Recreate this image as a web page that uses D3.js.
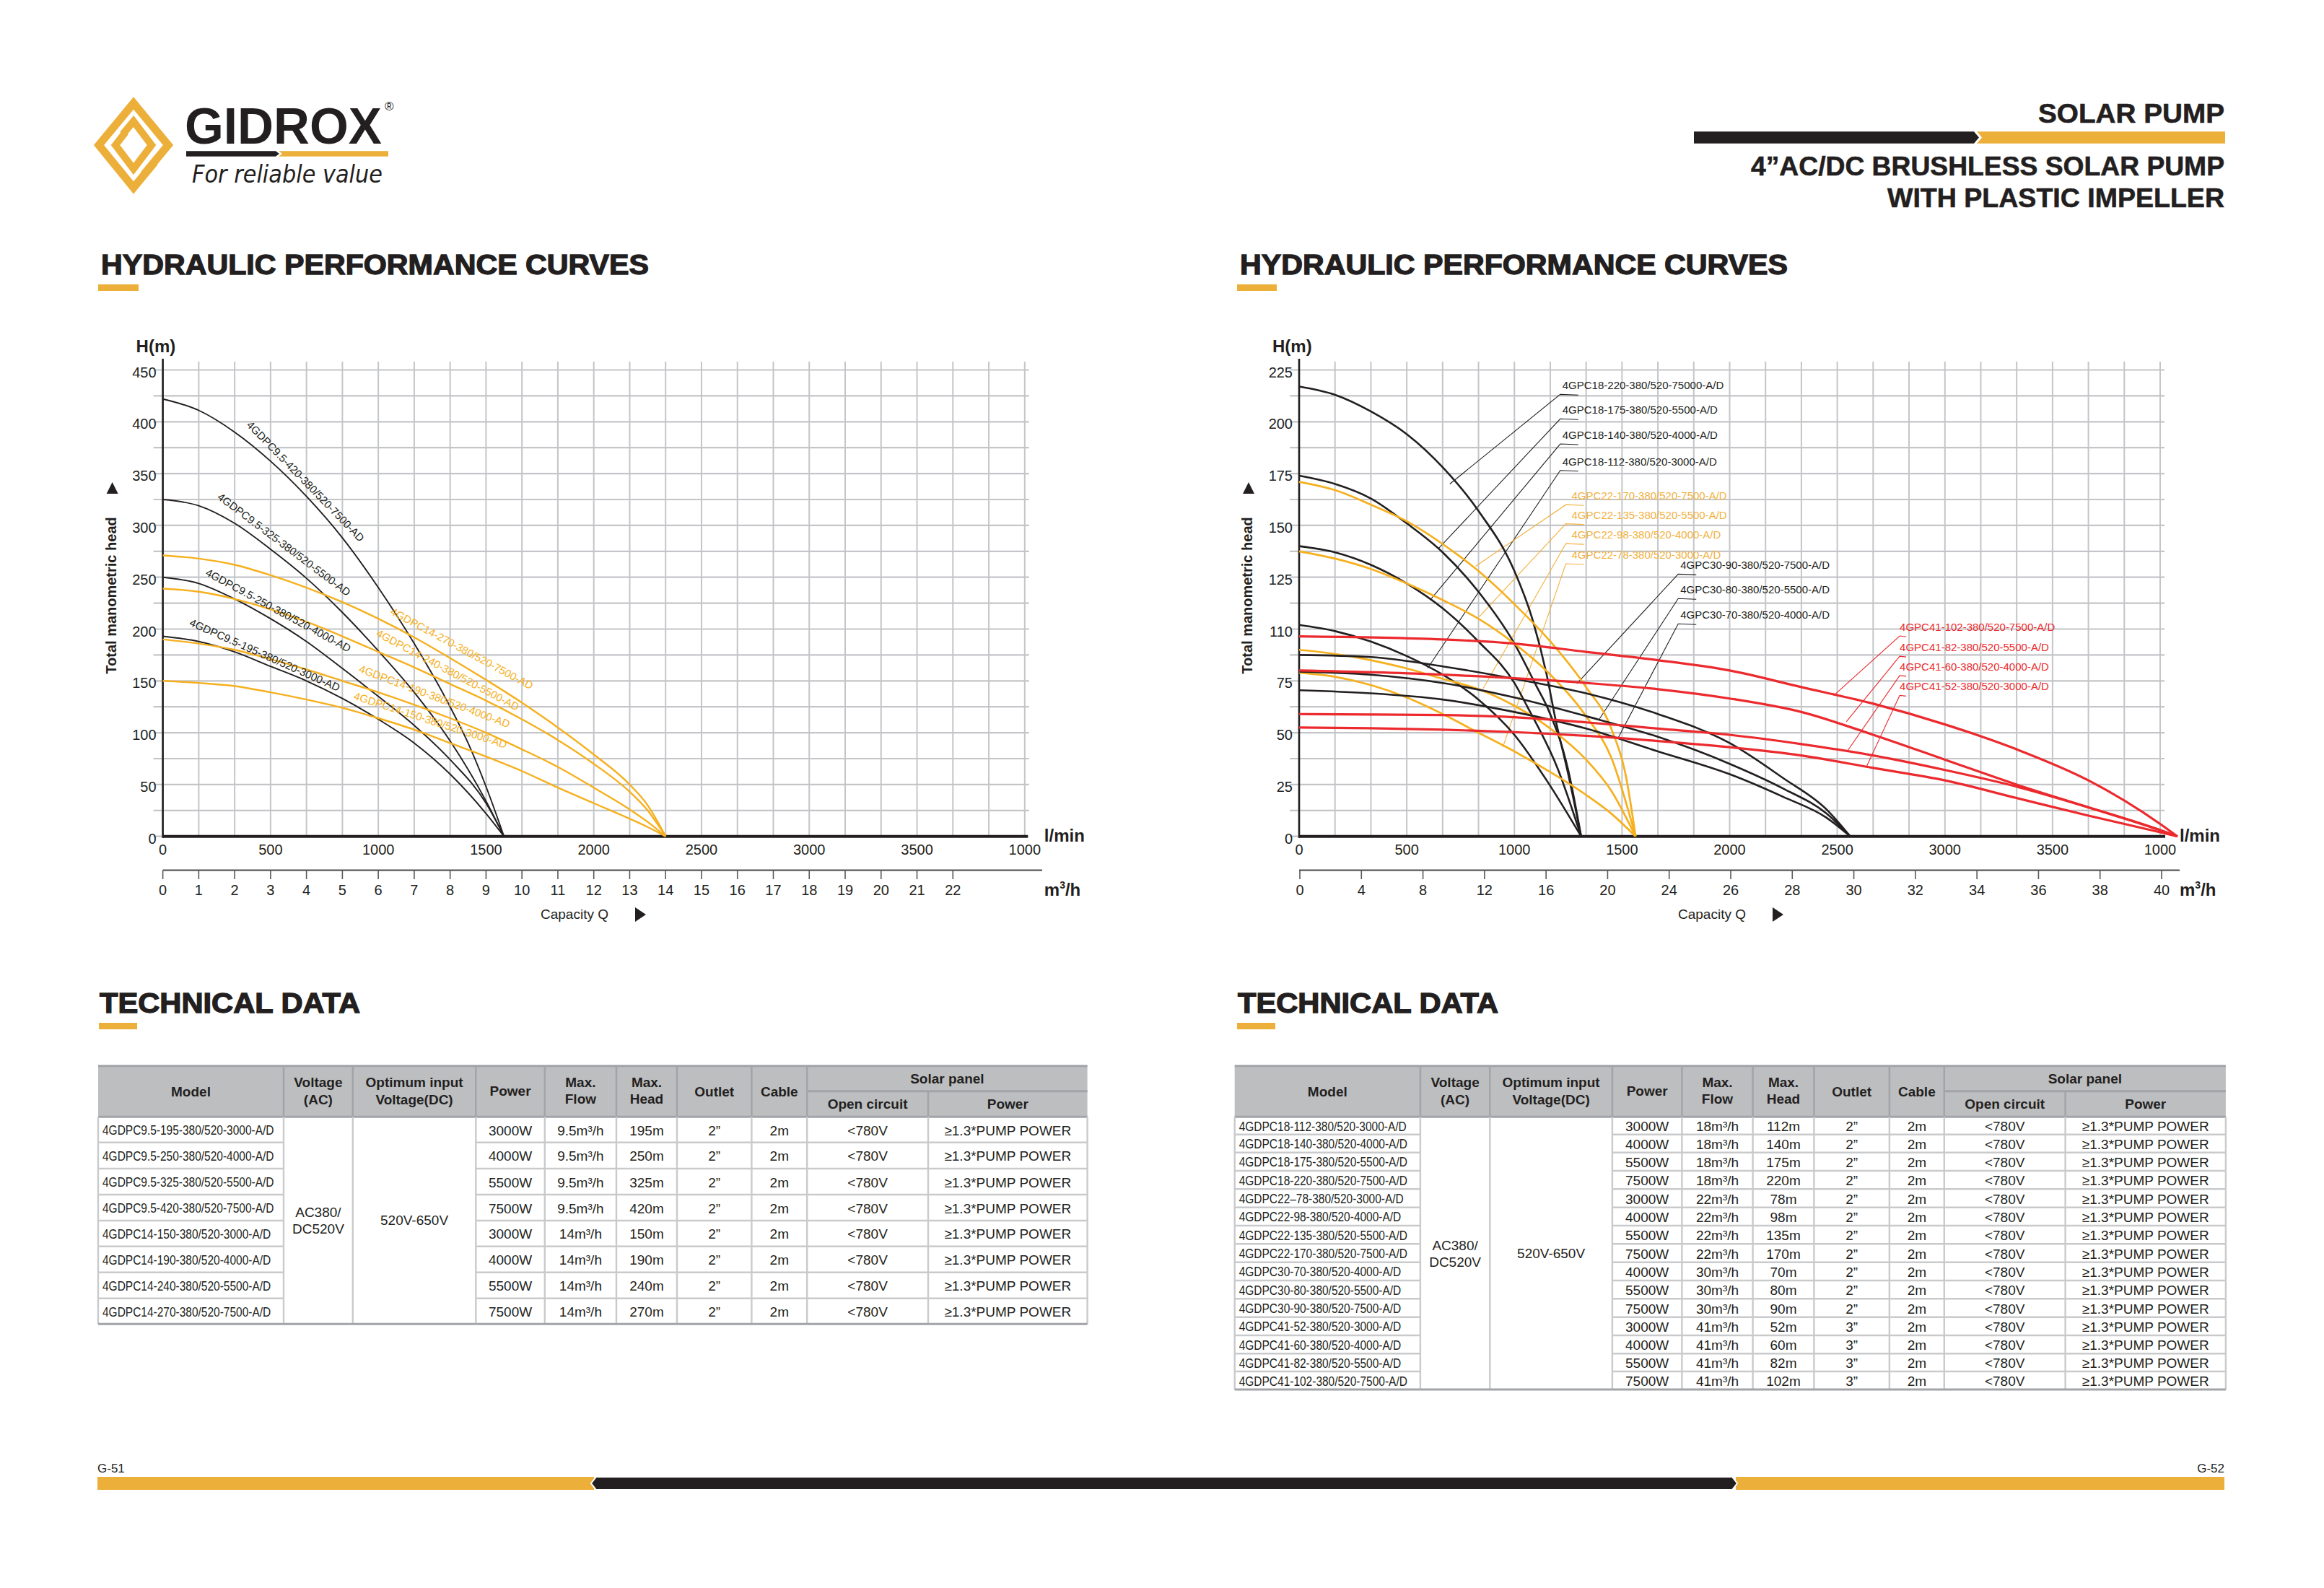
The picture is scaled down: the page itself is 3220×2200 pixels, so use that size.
<!DOCTYPE html>
<html><head><meta charset="utf-8">
<script src="https://cdn.jsdelivr.net/npm/d3@7"></script>
<style>
body{margin:0;background:#fff}
svg{display:block}
text{font-family:"Liberation Sans",Arial,Helvetica,sans-serif;fill:#231f20}
</style>
</head><body>
<script>
// ================= DATA =================
// Left chart (4GDPC9.5 / 4GDPC14) – x in m³/h grid units, y in metres
const leftM3hTicks = [0,1,2,3,4,5,6,7,8,9,10,11,12,13,14,15,16,17,18,19,20,21,22];
const leftLminTicks = [0,500,1000,1500,2000,2500,3000,3500,4000];
const leftLminLabels = ["0","500","1000","1500","2000","2500","3000","3500","1000"];
const leftHeadTicks = [0,50,100,150,200,250,300,350,400,450];

const gdpc95_195 = [[0,193],[1,188],[2,178],[3,164],[4,150],[5,133],[6,113],[7,90],[8,60],[9,22],[9.5,0]];
const gdpc95_250 = [[0,250],[1,244],[2,229],[3,210],[4,188],[5,162],[6,135],[7,107],[8,74],[9,32],[9.5,0]];
const gdpc95_325 = [[0,325],[1,319],[2,302],[3,277],[4,249],[5,216],[6,179],[7,139],[8,92],[9,34],[9.5,0]];
const gdpc95_420 = [[0,422],[1,411],[2,390],[3,362],[4,328],[5,288],[6,240],[7,186],[8,125],[8.5,90],[9,48],[9.5,0]];
const gdpc14_150 = [[0,150],[1,148],[2,145],[3,139],[4,132],[5,124],[6,114],[7,103],[8,90],[9,77],[10,63],[11,47],[12,32],[13,17],[13.5,9],[14,0]];
const gdpc14_190 = [[0,190],[1,186],[2,180],[3,171],[4,161],[5,150],[6,139],[7,127],[8,114],[9,100],[10,84],[11,67],[12,47],[13,26],[13.5,14],[14,0]];
const gdpc14_240 = [[0,239],[1,236],[2,229],[3,219],[4,207],[5,193],[6,178],[7,163],[8,147],[9,131],[10,113],[11,93],[12,70],[13,43],[13.5,25],[14,0]];
const gdpc14_270 = [[0,271],[1,268],[2,262],[3,252],[4,240],[5,226],[6,210],[7,192],[8,172],[9,151],[10,129],[11,105],[12,79],[13,50],[13.5,30],[14,0]];

const leftSeriesNames = ["4GDPC9.5-420-380/520-7500-AD","4GDPC9.5-325-380/520-5500-AD","4GDPC9.5-250-380/520-4000-AD","4GDPC9.5-195-380/520-3000-AD",
  "4GDPC14-270-380/520-7500-AD","4GDPC14-240-380/520-5500-AD","4GDPC14-190-380/520-4000-AD","4GDPC14-150-380/520-3000-AD"];
const leftSeriesData = [gdpc95_420,gdpc95_325,gdpc95_250,gdpc95_195,gdpc14_270,gdpc14_240,gdpc14_190,gdpc14_150];
const leftSeriesGroup = ["k","k","k","k","y","y","y","y"];
// label anchor (data space) and text angle
const leftLabelAt = [[3.92,340.7],[3.33,279.5],[3.18,215.7],[2.81,172.6],[8.29,178.9],[7.90,158.2],[7.54,132.6],[7.43,109.6]];
const leftLabelAngle = [45.8,37,28.4,24,28.3,28.1,20.5,18];

// Right chart (4GPC18/22/30/41) – x in l/min, y in metres
const rightLminTicks = [0,500,1000,1500,2000,2500,3000,3500,4000];
const rightLminLabels = ["0","500","1000","1500","2000","2500","3000","3500","1000"];
const rightHeadTicks = [0,25,50,75,100,125,150,175,200,225];
const rightHeadLabels = ["0","25","50","75","110","125","150","175","200","225"];
const rightM3hLabels = ["0","4","8","12","16","20","24","26","28","30","32","34","36","38","40"];

const gpc18_220 = [[0,217],[167,213],[333,205],[500,194],[667,178],[833,157],[1000,128],[1083,105],[1150,78],[1192,56],[1250,30],[1310,0]];
const gpc18_175 = [[0,174],[167,170],[333,163],[500,151],[667,137],[833,118],[1000,93],[1100,73],[1154,62],[1250,32],[1310,0]];
const gpc18_140 = [[0,140],[167,137],[333,131],[500,122],[667,110],[833,94],[1000,74],[1063,62],[1200,33],[1310,0]];
const gpc18_112 = [[0,102],[167,99],[333,94],[500,87],[667,78],[833,66],[1000,49],[1150,27],[1310,0]];
const gpc22_170 = [[0,171],[167,167],[333,160],[500,152],[667,141],[833,128],[1000,112],[1167,94],[1333,72],[1450,52],[1520,28],[1563,0]];
const gpc22_135 = [[0,137.5],[167,134],[333,129],[500,122],[667,114],[833,105],[1000,93],[1167,78],[1333,58],[1450,38],[1563,0]];
const gpc22_98  = [[0,90],[167,88],[333,85],[500,81],[667,76],[833,71],[1000,63],[1167,52],[1333,37],[1450,22],[1563,0]];
const gpc22_78  = [[0,79],[167,77],[333,73],[500,67],[667,59],[833,50],[1000,41],[1167,31],[1333,20],[1450,11],[1563,0]];
const gpc30_90  = [[0,87.5],[333,86.5],[667,82],[1000,76],[1333,69],[1667,59],[2000,45],[2250,28],[2450,13],[2560,0]];
const gpc30_80  = [[0,79.5],[333,78],[667,74],[1000,67],[1333,58],[1667,48],[2000,35],[2250,23],[2450,11],[2560,0]];
const gpc30_70  = [[0,70.5],[333,69],[667,66],[1000,60],[1333,52],[1667,41],[2000,30],[2250,19],[2450,9],[2560,0]];
const gpc41_102 = [[0,96.5],[667,95],[1000,93],[1333,89],[1667,85],[2000,80],[2333,72],[2667,64],[3000,54],[3333,42],[3667,27],[4000,6],[4080,0]];
const gpc41_82  = [[0,80],[667,78],[1333,74],[1667,71],[2000,66.5],[2333,60],[2667,49],[3000,37],[3333,25],[3667,14],[4000,3],[4080,0]];
const gpc41_60  = [[0,59],[333,58.8],[667,58.5],[1000,57.5],[1333,55],[1667,52],[2000,49],[2333,44.5],[2667,39],[3000,32],[3333,24],[3667,14],[4000,3],[4080,0]];
const gpc41_52  = [[0,52.5],[333,52.2],[667,51.5],[1000,50.3],[1333,48.5],[1667,46],[2000,43],[2333,39],[2667,33],[3000,27],[3333,18.5],[3667,10],[4000,2],[4080,0]];

const rightSeriesNames = ["4GPC18-220-380/520-75000-A/D","4GPC18-175-380/520-5500-A/D","4GPC18-140-380/520-4000-A/D","4GPC18-112-380/520-3000-A/D",
  "4GPC22-170-380/520-7500-A/D","4GPC22-135-380/520-5500-A/D","4GPC22-98-380/520-4000-A/D","4GPC22-78-380/520-3000-A/D",
  "4GPC30-90-380/520-7500-A/D","4GPC30-80-380/520-5500-A/D","4GPC30-70-380/520-4000-A/D",
  "4GPC41-102-380/520-7500-A/D","4GPC41-82-380/520-5500-A/D","4GPC41-60-380/520-4000-A/D","4GPC41-52-380/520-3000-A/D"];
const rightSeriesData = [gpc18_220,gpc18_175,gpc18_140,gpc18_112,gpc22_170,gpc22_135,gpc22_98,gpc22_78,gpc30_90,gpc30_80,gpc30_70,gpc41_102,gpc41_82,gpc41_60,gpc41_52];
const rightSeriesGroup = ["k","k","k","k","y","y","y","y","k","k","k","r","r","r","r"];
// leader: point on curve -> elbow (data space)
const rightLeaderFrom = [[700,170],[649,139],[614,114.7],[597,81.1],[820,130.3],[837,106],[854,71.2],[946,43],[1290,73.7],[1393,56.3],[1479,46.9],[2484,68],[2542,55.3],[2544,40.7],[2636,33.7]];
const rightLeaderElbow = [[1213,213.2],[1213,201.4],[1213,189.3],[1213,176.5],[1239,160],[1239,150.8],[1239,141.2],[1239,131.5],[1761,126.5],[1761,114.7],[1761,102.5],[2790,96.7],[2790,86.9],[2790,77.6],[2790,68]];

// Tables
const leftModels = ["4GDPC9.5-195-380/520-3000-A/D","4GDPC9.5-250-380/520-4000-A/D","4GDPC9.5-325-380/520-5500-A/D","4GDPC9.5-420-380/520-7500-A/D",
  "4GDPC14-150-380/520-3000-A/D","4GDPC14-190-380/520-4000-A/D","4GDPC14-240-380/520-5500-A/D","4GDPC14-270-380/520-7500-A/D"];
const leftPower = ["3000W","4000W","5500W","7500W","3000W","4000W","5500W","7500W"];
const leftFlow = ["9.5m³/h","9.5m³/h","9.5m³/h","9.5m³/h","14m³/h","14m³/h","14m³/h","14m³/h"];
const leftHead = ["195m","250m","325m","420m","150m","190m","240m","270m"];
const leftOutlet = ["2”","2”","2”","2”","2”","2”","2”","2”"];

const rightModels = ["4GDPC18-112-380/520-3000-A/D","4GDPC18-140-380/520-4000-A/D","4GDPC18-175-380/520-5500-A/D","4GDPC18-220-380/520-7500-A/D",
  "4GDPC22–78-380/520-3000-A/D","4GDPC22-98-380/520-4000-A/D","4GDPC22-135-380/520-5500-A/D","4GDPC22-170-380/520-7500-A/D",
  "4GDPC30-70-380/520-4000-A/D","4GDPC30-80-380/520-5500-A/D","4GDPC30-90-380/520-7500-A/D",
  "4GDPC41-52-380/520-3000-A/D","4GDPC41-60-380/520-4000-A/D","4GDPC41-82-380/520-5500-A/D","4GDPC41-102-380/520-7500-A/D"];
const rightPower = ["3000W","4000W","5500W","7500W","3000W","4000W","5500W","7500W","4000W","5500W","7500W","3000W","4000W","5500W","7500W"];
const rightFlow = ["18m³/h","18m³/h","18m³/h","18m³/h","22m³/h","22m³/h","22m³/h","22m³/h","30m³/h","30m³/h","30m³/h","41m³/h","41m³/h","41m³/h","41m³/h"];
const rightHead = ["112m","140m","175m","220m","78m","98m","135m","170m","70m","80m","90m","52m","60m","82m","102m"];
const rightOutlet = ["2”","2”","2”","2”","2”","2”","2”","2”","2”","2”","2”","3”","3”","3”","3”"];
const cableText = "2m", openCircuitText = "<780V", panelPowerText = "≥1.3*PUMP POWER";

// ================= STYLE =================
const DARK="#231f20", ACC="#ecb03a", YEL="#f6b01e", YEL_LBL="#f2b13e", RED="#ec2a2e", GRID="#c4c5c8";
const COLORS = {k:DARK, y:YEL, r:RED};

const svg = d3.select("body").append("svg").attr("width",3220).attr("height",2200);
function T(g,x,y,s,o={}){
  const t=g.append("text").attr("x",x).attr("y",y).text(s)
    .attr("font-size",o.size||19).attr("font-weight",o.bold?"bold":"normal")
    .attr("text-anchor",o.anchor||"start");
  if(o.fill) t.style("fill",o.fill);
  if(o.base) t.attr("dominant-baseline",o.base);
  if(o.len) t.attr("textLength",o.len).attr("lengthAdjust","spacingAndGlyphs");
  if(o.style) t.attr("font-style",o.style);
  if(o.family) t.style("font-family",o.family);
  if(o.heavy) t.attr("stroke",DARK).attr("stroke-width",o.heavy);
  return t;
}

// ================= HEADER =================
const hdr = svg.append("g");
hdr.append("path").attr("d","M214,225 L185,260 L137,201 L185,143 L233,201 L199,242")
  .attr("fill","none").attr("stroke",ACC).attr("stroke-width",11).attr("stroke-linejoin","miter");
hdr.append("path").attr("d","M170,186 L185,168 L210,201 L185,234 L160,201 L174,183")
  .attr("fill","none").attr("stroke",ACC).attr("stroke-width",10).attr("stroke-linejoin","miter");
T(hdr,256,199,"GIDROX",{size:71,bold:true,len:273});
T(hdr,533,153,"®",{size:17});
hdr.append("polygon").attr("points","258,209.3 382,209.3 387,213 382,216.7 258,216.7").attr("fill",DARK);
hdr.append("polygon").attr("points","386,209.3 538,209.3 538,216.7 386,216.7 391,213").attr("fill",ACC);
T(hdr,266,253,"For reliable value",{size:33,len:264,style:"italic",family:"'DejaVu Sans', sans-serif"}).attr("font-weight",200);

T(hdr,3082,170,"SOLAR  PUMP",{size:37,bold:true,anchor:"end",len:258,heavy:0.6});
hdr.append("polygon").attr("points","2347,182.3 2735,182.3 2742,190.5 2735,198.7 2347,198.7").attr("fill",DARK);
hdr.append("polygon").attr("points","2739,182.3 3083,182.3 3083,198.7 2739,198.7 2746,190.5").attr("fill",ACC);
T(hdr,3082,243,"4”AC/DC BRUSHLESS SOLAR PUMP",{size:37,bold:true,anchor:"end",len:656,heavy:0.6});
T(hdr,3082,287,"WITH PLASTIC IMPELLER",{size:37,bold:true,anchor:"end",len:467,heavy:0.6});

T(hdr,140,380,"HYDRAULIC PERFORMANCE CURVES",{size:38,bold:true,len:759,heavy:1.3});
hdr.append("rect").attr("x",136).attr("y",394).attr("width",56).attr("height",9).attr("fill",ACC);
T(hdr,1718,380,"HYDRAULIC PERFORMANCE CURVES",{size:38,bold:true,len:759,heavy:1.3});
hdr.append("rect").attr("x",1714).attr("y",394).attr("width",55).attr("height",9).attr("fill",ACC);
T(hdr,138,1403,"TECHNICAL DATA",{size:38,bold:true,len:361,heavy:1.3});
hdr.append("rect").attr("x",137).attr("y",1417).attr("width",53).attr("height",9).attr("fill",ACC);
T(hdr,1715,1403,"TECHNICAL DATA",{size:38,bold:true,len:361,heavy:1.3});
hdr.append("rect").attr("x",1714).attr("y",1417).attr("width",53).attr("height",9).attr("fill",ACC);

// ================= CHART FRAME =================
function chartFrame(g, x0, xEnd, xTickPos, yTickVals, yScale, yGridVals, opts){
  g.selectAll(null).data(xTickPos).join("line")
    .attr("x1",d=>d).attr("x2",d=>d).attr("y1",501).attr("y2",yScale(0))
    .attr("stroke",GRID).attr("stroke-width",2);
  g.selectAll(null).data(yGridVals).join("line")
    .attr("x1",x0-13).attr("x2",xEnd+6).attr("y1",d=>yScale(d)).attr("y2",d=>yScale(d))
    .attr("stroke",GRID).attr("stroke-width",2.2);
  g.append("line").attr("x1",x0).attr("x2",x0).attr("y1",497).attr("y2",yScale(0)+2).attr("stroke",DARK).attr("stroke-width",2.6);
  g.append("line").attr("x1",x0).attr("x2",opts.axisEnd).attr("y1",yScale(0)).attr("y2",yScale(0)).attr("stroke",DARK).attr("stroke-width",4);
  T(g,x0-37,488,"H(m)",{size:24,bold:true});
  g.selectAll(null).data(yTickVals).join("text")
    .attr("x",x0-9).attr("y",d=>yScale(d)+3).attr("text-anchor","end").attr("dominant-baseline","central")
    .attr("font-size",20).text((d,i)=>opts.yLabels? opts.yLabels[i] : d);
  T(g,0,0,"Total manometric head",{size:20,bold:true,anchor:"middle",base:"central"})
    .attr("transform",`translate(${x0-72},825) rotate(-90)`);
  g.append("path").attr("d",`M${x0-78},684 L${x0-62},684 L${x0-70},668 Z`).attr("fill",DARK);
  g.append("line").attr("x1",x0).attr("x2",opts.axisEnd+20).attr("y1",1205.7).attr("y2",1205.7).attr("stroke","#5a5758").attr("stroke-width",2.2);
  T(g,xEnd+27,1166,"l/min",{size:24,bold:true});
  const m = T(g,xEnd+27,1241,"m",{size:24,bold:true});
  m.append("tspan").attr("font-size",14).attr("dy",-10).text("3");
  m.append("tspan").attr("dy",10).text("/h");
  T(g,opts.capX,1273,"Capacity  Q",{size:19});
  g.append("path").attr("d",`M${opts.capX+131},1257 L${opts.capX+146},1267 L${opts.capX+131},1277 Z`).attr("fill",DARK);
}

const lineGen = (xs,ys)=>d3.line().x(d=>xs(d[0])).y(d=>ys(d[1])).curve(d3.curveMonotoneX);

// ================= LEFT CHART =================
const gL = svg.append("g");
const xL = d3.scaleLinear().domain([0,24]).range([225.6,1419.8]);
const xLmin = d3.scaleLinear().domain([0,4000]).range([225.6,1419.8]);
const yL = d3.scaleLinear().domain([0,450]).range([1158.7,512.5]);
chartFrame(gL,225.6,1419.8,d3.range(0,25).map(xL),leftHeadTicks,yL,d3.range(0,451,25),{axisEnd:1424,capX:749});
gL.selectAll(null).data(leftLminTicks).join("text").attr("x",d=>xLmin(d)).attr("y",1177)
  .attr("text-anchor","middle").attr("dominant-baseline","central").attr("font-size",20).text((d,i)=>leftLminLabels[i]);
gL.selectAll(null).data(leftM3hTicks).join("line").attr("x1",d=>xL(d)).attr("x2",d=>xL(d))
  .attr("y1",1205.7).attr("y2",1218).attr("stroke","#5a5758").attr("stroke-width",1.6);
gL.selectAll(null).data(leftM3hTicks).join("text").attr("x",d=>xL(d)).attr("y",1233)
  .attr("text-anchor","middle").attr("dominant-baseline","central").attr("font-size",20).text(d=>d);
const lgL = lineGen(xL,yL);
leftSeriesData.forEach((s,i)=>{
  const grp=leftSeriesGroup[i];
  gL.append("path").attr("d",lgL(s)).attr("fill","none").attr("stroke",COLORS[grp]).attr("stroke-width",grp==="k"?1.9:2.4);
});
leftSeriesData.forEach((s,i)=>{
  const grp=leftSeriesGroup[i];
  const [lx,ly]=leftLabelAt[i];
  const a=leftLabelAngle[i]*Math.PI/180, off=4;
  const px=xL(lx)+Math.sin(a)*off, py=yL(ly)-Math.cos(a)*off;
  T(gL,0,0,leftSeriesNames[i],{size:15,anchor:"middle",base:"central",fill:grp==="k"?DARK:YEL})
    .attr("transform",`translate(${px},${py}) rotate(${leftLabelAngle[i]})`);
});

// ================= RIGHT CHART =================
const gR = svg.append("g");
const xR = d3.scaleLinear().domain([0,4000]).range([1800,2993]);
const yR = d3.scaleLinear().domain([0,225]).range([1158.7,512.5]);
const xRgrid = d3.scaleLinear().domain([0,24]).range([1800,2993]);
chartFrame(gR,1800,2993,d3.range(0,25).map(xRgrid),rightHeadTicks,yR,d3.range(0,226,12.5),{axisEnd:3000,capX:2325,yLabels:rightHeadLabels});
gR.selectAll(null).data(rightLminTicks).join("text").attr("x",d=>xR(d)).attr("y",1177)
  .attr("text-anchor","middle").attr("dominant-baseline","central").attr("font-size",20).text((d,i)=>rightLminLabels[i]);
const xM3R = d3.scalePoint().domain(rightM3hLabels).range([1801,2995]);
gR.selectAll(null).data(rightM3hLabels).join("line").attr("x1",d=>xM3R(d)).attr("x2",d=>xM3R(d))
  .attr("y1",1205.7).attr("y2",1218).attr("stroke","#5a5758").attr("stroke-width",1.6);
gR.selectAll(null).data(rightM3hLabels).join("text").attr("x",d=>xM3R(d)).attr("y",1233)
  .attr("text-anchor","middle").attr("dominant-baseline","central").attr("font-size",20).text(d=>d);
const lgR = lineGen(xR,yR);
rightSeriesData.forEach((s,i)=>{
  const grp=rightSeriesGroup[i];
  const col = grp==="k"?DARK:(grp==="y"?YEL_LBL:RED);
  const [fq,fh]=rightLeaderFrom[i], [eq,eh]=rightLeaderElbow[i];
  const ex=xR(eq), ey=yR(eh);
  gR.append("polyline").attr("points",`${xR(fq)},${yR(fh)} ${ex},${ey} ${ex+(grp==="r"?9:25)},${ey+1}`)
    .attr("fill","none").attr("stroke",col).attr("stroke-width",1.1);
});
rightSeriesData.forEach((s,i)=>{
  const grp=rightSeriesGroup[i];
  gR.append("path").attr("d",lgR(s)).attr("fill","none").attr("stroke",COLORS[grp])
    .attr("stroke-width",grp==="r"?3.2:(grp==="y"?2.7:2.6));
});
rightSeriesData.forEach((s,i)=>{
  const grp=rightSeriesGroup[i];
  const col = grp==="k"?DARK:(grp==="y"?YEL_LBL:RED);
  const [eq,eh]=rightLeaderElbow[i];
  const tx = xR(eq)+(grp==="y"?8:(grp==="r"?0:3));
  T(gR,tx,yR(eh)-7,rightSeriesNames[i],{size:15,fill:col});
});

// ================= TABLES =================
function table(xs, yTop, ySub, yHead, rowYs, rows, mergeTexts){
  const g = svg.append("g");
  const x0=xs[0], x1=xs[xs.length-1];
  g.append("rect").attr("x",x0).attr("y",yTop).attr("width",x1-x0).attr("height",yHead-yTop).attr("fill","#bcbec0");
  const HL="#a2a4a7";
  g.append("line").attr("x1",x0).attr("x2",x1).attr("y1",yTop).attr("y2",yTop).attr("stroke",HL).attr("stroke-width",3);
  g.append("line").attr("x1",x0).attr("x2",x1).attr("y1",yHead).attr("y2",yHead).attr("stroke",HL).attr("stroke-width",3);
  g.append("line").attr("x1",xs[8]).attr("x2",x1).attr("y1",ySub).attr("y2",ySub).attr("stroke",HL).attr("stroke-width",3);
  xs.slice(1,-1).forEach((x,i)=>{
    g.append("line").attr("x1",x).attr("x2",x).attr("y1",(i===8)?ySub:yTop).attr("y2",yHead).attr("stroke",HL).attr("stroke-width",2.5);
  });
  const cx=i=>(xs[i]+xs[i+1])/2;
  const hb=(i,s,y)=>T(g,cx(i),y,s,{size:19,bold:true,anchor:"middle",base:"central"});
  hb(0,"Model",1512); hb(1,"Voltage",1499); hb(1,"(AC)",1523);
  hb(2,"Optimum input",1499); hb(2,"Voltage(DC)",1523); hb(3,"Power",1511);
  hb(4,"Max.",1499); hb(4,"Flow",1522); hb(5,"Max.",1499); hb(5,"Head",1522);
  hb(6,"Outlet",1512); hb(7,"Cable",1512);
  T(g,(xs[8]+xs[10])/2,1494,"Solar panel",{size:19,bold:true,anchor:"middle",base:"central"});
  hb(8,"Open circuit",1529); hb(9,"Power",1529);
  const BL="#c9cacc";
  const yEnd = rowYs[rowYs.length-1];
  xs.forEach((x,i)=>{
    g.append("line").attr("x1",x).attr("x2",x).attr("y1",yHead).attr("y2",yEnd).attr("stroke",BL).attr("stroke-width",2.4);
  });
  rowYs.slice(1).forEach((y,k)=>{
    const last = k===rowYs.length-2;
    g.append("line").attr("x1",x0).attr("x2",xs[1]).attr("y1",y).attr("y2",y).attr("stroke",last?HL:BL).attr("stroke-width",last?3:2.6);
    g.append("line").attr("x1",xs[3]).attr("x2",x1).attr("y1",y).attr("y2",y).attr("stroke",last?HL:BL).attr("stroke-width",last?3:2.6);
  });
  g.append("line").attr("x1",xs[1]).attr("x2",xs[3]).attr("y1",yEnd).attr("y2",yEnd).attr("stroke",HL).attr("stroke-width",3);
  rows.forEach((r,k)=>{
    const yc=(rowYs[k]+rowYs[k+1])/2+1;
    const mt = T(g,x0+6,yc,r[0],{size:18,base:"central"});
    const w = mt.node().getComputedTextLength();
    mt.attr("textLength",Math.min(w*0.86,xs[1]-x0-10)).attr("lengthAdjust","spacingAndGlyphs");
    [r[1],r[2],r[3],r[4],cableText,openCircuitText,panelPowerText].forEach((s,j)=>{
      T(g,cx(j+3),yc,s,{size:19,anchor:"middle",base:"central"});
    });
  });
  const ym=(yHead+yEnd)/2;
  T(g,cx(1),ym-11,mergeTexts[0],{size:19,anchor:"middle",base:"central"});
  T(g,cx(1),ym+12,mergeTexts[1],{size:19,anchor:"middle",base:"central"});
  T(g,cx(2),ym,mergeTexts[2],{size:19,anchor:"middle",base:"central"});
}
const leftRows = leftModels.map((m,i)=>[m,leftPower[i],leftFlow[i],leftHead[i],leftOutlet[i]]);
table([136,393,488.8,659.3,754.8,854,938,1041.4,1118.2,1286,1506.6],1476.7,1511.7,1547.3,
  [1547.3,1582.7,1619,1655,1691,1726.7,1762.7,1798.7,1834.3],leftRows,["AC380/","DC520V","520V-650V"]);
const rightRows = rightModels.map((m,i)=>[m,rightPower[i],rightFlow[i],rightHead[i],rightOutlet[i]]);
table([1710.7,1967.9,2064.3,2233.9,2330.4,2428.6,2513.4,2617.9,2693.8,2861.6,3083.9],1476.7,1511.7,1547.3,
  [1547.3,1571.7,1596.7,1622,1647.3,1672.7,1698,1723.3,1748.7,1774,1799.3,1824.7,1850,1875.3,1900,1925],rightRows,["AC380/","DC520V","520V-650V"]);

// ================= FOOTER =================
const ft = svg.append("g");
ft.append("rect").attr("x",135).attr("y",2046).attr("width",688).attr("height",18).attr("fill",ACC);
ft.append("rect").attr("x",2405).attr("y",2046).attr("width",677).attr("height",18).attr("fill",ACC);
ft.append("polygon").attr("points","826,2046 2400,2046 2407,2055 2400,2064 826,2064 819,2055").attr("fill",DARK).attr("stroke","#fff").attr("stroke-width",2);
T(ft,135,2040,"G-51",{size:17});
T(ft,3082,2040,"G-52",{size:17,anchor:"end"});
</script>
</body></html>
